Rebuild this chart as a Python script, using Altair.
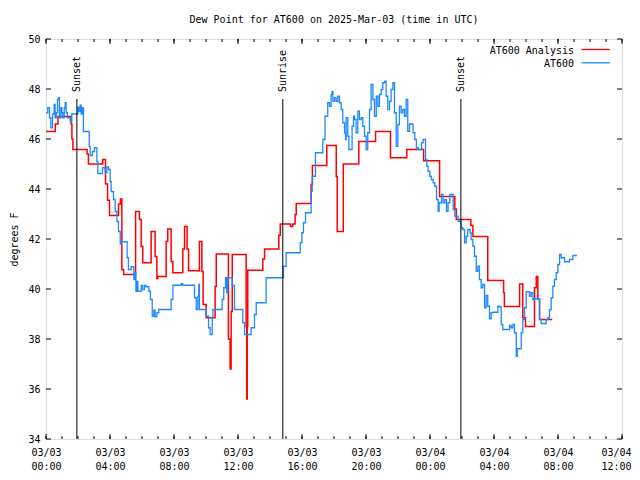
import altair as alt
import pandas as pd

# ---------------- data ----------------
red_hours = [0.00, 0.58, 0.75, 1.57, 1.62, 1.68, 2.57, 2.65, 3.55, 3.72, 3.85, 3.97,
             4.53, 4.65, 4.74, 4.85, 5.60, 5.84, 5.95, 6.05, 6.57, 6.82, 6.93, 6.99,
             7.51, 7.61, 7.82, 7.93, 8.55, 8.66, 8.82, 8.91, 9.59, 9.74, 9.82, 10.01,
             10.57, 10.64, 11.40, 11.51, 11.57, 11.64, 12.51, 12.55, 12.58, 12.61, 13.55,
             13.66, 14.55, 14.64, 15.28, 15.42, 15.57, 15.64, 16.57, 16.65, 17.55,
             18.14, 18.20, 18.58, 19.55, 20.60, 21.53, 22.55, 23.60, 24.60, 25.55,
             25.64, 26.55, 26.68, 27.61, 28.60, 28.65, 29.60, 29.80, 29.97, 30.53,
             30.64, 30.74, 30.85, 31.64]
red_vals = [46.30, 46.60, 46.90, 46.60, 46.00, 45.58, 45.40, 45.00, 45.18, 44.20, 43.55, 42.94,
            43.40, 43.60, 40.78, 40.58, 43.10, 42.78, 41.70, 41.05, 42.30, 41.30, 40.42, 40.50,
            41.90, 42.40, 41.10, 40.65, 41.60, 42.50, 41.60, 40.73, 41.90, 40.70, 39.38, 38.85,
            40.10, 41.40, 38.00, 36.80, 39.10, 41.38, 38.50, 35.60, 38.50, 40.75, 41.20,
            41.60, 42.15, 42.60, 42.50, 42.60, 42.98, 43.42, 44.18, 44.94, 45.74,
            44.50, 42.30, 45.00, 45.90, 46.30, 45.25, 45.58, 45.13, 43.70, 43.20,
            42.78, 42.54, 42.10, 40.34, 39.85, 39.30, 40.20, 38.85, 38.50, 40.05,
            40.50, 39.60, 38.78, 38.78]

blue_hours = [0.00, 0.11, 0.22, 0.30, 0.41, 0.51, 0.57, 0.64, 0.72, 0.78, 0.84, 0.93, 0.99,
              1.05, 1.14, 1.20, 1.26, 1.34, 1.51, 1.61, 1.99, 2.07, 2.14, 2.20, 2.28, 2.34,
              2.70, 2.76, 2.90, 3.03, 3.18, 3.24, 3.53, 3.70, 3.80, 3.91, 4.01, 4.07, 4.22,
              4.32, 4.43, 4.53, 4.64, 4.70, 5.07, 5.15, 5.32, 5.49, 5.57, 5.62, 5.68, 5.74,
              5.95, 6.05, 6.16, 6.26, 6.43, 6.53, 6.64, 6.74, 6.82, 6.93, 7.05, 7.82, 7.93,
              8.45, 8.55, 9.28, 9.39, 9.49, 9.55, 9.59, 10.01, 10.16, 10.26, 10.39, 10.43,
              11.01, 11.11, 11.22, 11.30, 11.36, 11.64, 11.78, 12.30, 12.41, 12.82, 13.03,
              13.14, 13.76, 14.84, 15.01, 15.89, 15.99, 16.09, 16.22, 16.57, 16.64, 16.84,
              17.30, 17.44, 17.61, 17.72, 17.82, 17.88, 17.93, 18.03, 18.13, 18.24, 18.34,
              18.45, 18.55, 18.66, 18.72, 18.76, 18.86, 18.93, 19.13, 19.22, 19.28, 19.38,
              19.49, 19.59, 19.70, 19.80, 19.91, 20.01, 20.11, 20.22, 20.32, 20.43, 20.53,
              20.64, 20.74, 20.84, 20.95, 21.05, 21.16, 21.26, 21.36, 21.47, 21.57, 21.68,
              21.78, 21.89, 21.99, 22.09, 22.20, 22.30, 22.41, 22.51, 22.61, 22.72, 22.94,
              23.05, 23.15, 23.26, 23.47, 23.57, 23.72, 23.80, 23.88, 23.99, 24.09, 24.20,
              24.30, 24.41, 24.51, 24.57, 24.72, 24.82, 24.93, 25.03, 25.13, 25.24, 25.45,
              25.55, 25.76, 25.95, 26.05, 26.16, 26.26, 26.36, 26.51, 26.57, 26.68, 26.78,
              26.89, 26.99, 27.09, 27.20, 27.30, 27.41, 27.51, 27.61, 27.72, 27.82, 27.93,
              28.24, 28.34, 28.45, 28.55, 28.97, 29.07, 29.18, 29.28, 29.39, 29.45, 29.70,
              29.80, 29.91, 30.01, 30.22, 30.32, 30.43, 30.53, 30.84, 30.95, 31.26, 31.36,
              31.47, 31.57, 31.68, 31.78, 31.89, 31.99, 32.10, 32.20, 32.41, 32.72, 32.93,
              33.18]
blue_vals = [47.05, 47.25, 46.85, 46.45, 47.00, 47.38, 46.85, 47.05, 47.58, 47.65, 46.85, 47.25, 47.05,
             46.85, 47.25, 47.45, 47.05, 46.85, 46.70, 47.00, 47.27, 47.10, 47.35, 47.00, 47.25, 46.30,
             45.70, 45.34, 45.50, 45.65, 45.10, 44.62, 44.85, 44.65, 44.88, 44.78, 44.30, 43.90, 43.58,
             43.10, 42.70, 42.30, 41.80, 41.89, 41.25, 40.78, 40.89, 40.38, 40.65, 39.91, 40.30, 39.91,
             40.14, 39.98, 40.14, 40.09, 39.91, 39.58, 38.91, 39.15, 38.89, 39.05, 39.18, 39.58, 40.15,
             40.21, 40.15, 39.65, 39.18, 39.71, 40.18, 39.18, 38.91, 38.45, 38.18, 38.85, 39.18,
             39.58, 40.05, 40.45, 39.85, 40.45, 40.14, 39.18, 38.65, 38.18, 38.45, 38.98,
             39.45, 40.45, 40.91, 41.45, 41.85, 42.25, 42.65, 43.05, 43.91, 44.51, 45.45,
             45.98, 46.91, 47.45, 47.31, 47.78, 47.89, 47.51, 47.65, 47.51, 47.71, 47.45,
             47.18, 46.65, 46.25, 45.98, 46.85, 46.11, 45.58, 46.51, 46.91, 46.78, 46.25,
             47.11, 46.78, 46.85, 46.51, 46.11, 45.58, 46.25, 47.18, 48.18, 47.58, 46.91,
             47.71, 47.31, 47.78, 47.98, 48.25, 48.31, 47.71, 47.18, 47.51, 47.98, 48.25,
             47.05, 45.71, 46.58, 47.31, 47.05, 47.18, 46.91, 47.58, 46.31, 46.60, 46.25,
             45.98, 45.65, 45.58, 45.85, 45.98, 45.18, 44.91, 44.71, 44.51, 44.38, 44.25,
             44.11, 43.58, 43.11, 43.45, 43.78, 43.45, 43.58, 43.11, 43.45, 43.78, 43.18,
             42.91, 42.71, 42.45, 42.38, 41.85, 42.11, 42.38, 42.25, 41.98, 41.71, 41.31,
             40.71, 40.91, 40.38, 40.05, 40.18, 39.25, 39.74, 39.31, 38.81, 39.05, 39.07,
             39.31, 39.29, 38.58, 38.38, 38.54, 38.45, 38.58, 38.25, 37.31, 37.61, 38.25,
             38.78, 39.25, 39.89, 39.71, 39.85, 39.58, 39.61, 38.78, 38.62, 38.78, 38.85,
             39.18, 39.65, 40.11, 40.38, 40.65, 40.98, 41.38, 41.25, 41.09, 41.18, 41.34,
             41.34]

sun_hours = [1.93, 14.80, 25.93]
sun_labels = ["Sunset", "Sunrise", "Sunset"]

y_ticks = [34, 36, 38, 40, 42, 44, 46, 48, 50]
x_major = [0, 4, 8, 12, 16, 20, 24, 28, 32, 36]
x_minor = list(range(0, 37))

series_names = ["AT600 Analysis", "AT600"]
series_colors = ["#ff0000", "#1e88ff"]

# ---------------- chart ----------------
FONT = "DejaVu Sans Mono"
W, H = 576, 400

red_df = pd.DataFrame({"hour": red_hours, "value": red_vals})
blue_df = pd.DataFrame({"hour": blue_hours, "value": blue_vals})
sun_df = pd.DataFrame({"hour": sun_hours, "label": sun_labels})
ytick_df = pd.DataFrame({"value": y_ticks})
xmaj_df = pd.DataFrame({"hour": x_major})
xmin_df = pd.DataFrame({"hour": x_minor})

xscale = alt.Scale(domain=[0, 36], nice=False, zero=False)
yscale = alt.Scale(domain=[34, 50], nice=False, zero=False)

label_expr = ("[datum.value < 24 ? '03/03' : '03/04', "
              "((datum.value % 24) < 10 ? '0' : '') + (datum.value % 24) + ':00']")

x_axis = alt.Axis(values=x_major, labelExpr=label_expr, ticks=False, grid=False,
                  domain=False, title=None, labelFont=FONT, labelFontSize=10,
                  labelColor="black", labelPadding=8, labelLineHeight=14,
                  labelAngle=0, labelOverlap=False, labelFlush=False,
                  labelOffset={"condition": {"test": "datum.value >= 36", "value": -6},
                               "value": 0})
y_axis = alt.Axis(values=y_ticks, ticks=False, grid=False, domain=False,
                  title="degrees F", titleFont=FONT, titleFontSize=10,
                  titleFontWeight="normal", titleColor="black", titlePadding=8,
                  labelFont=FONT, labelFontSize=10, labelColor="black",
                  labelPadding=6, labelOverlap=False)

X = alt.X("hour:Q", scale=xscale, axis=x_axis)
Y = alt.Y("value:Q", scale=yscale, axis=y_axis)

red_line = alt.Chart(red_df).mark_line(
    interpolate="step-after", color=series_colors[0], strokeWidth=1.5
).encode(x=X, y=Y)

blue_line = alt.Chart(blue_df).mark_line(
    interpolate="step-after", color=series_colors[1], strokeWidth=1.3
).encode(x=X, y=Y)

sun_rules = alt.Chart(sun_df).mark_rule(color="black", strokeWidth=1).encode(
    x=X, y=alt.value(H), y2=alt.value(60))
sun_text = alt.Chart(sun_df).mark_text(
    angle=270, align="left", baseline="middle", font=FONT, fontSize=10, color="black"
).encode(x=X, y=alt.value(53), text="label:N")

# inward ticks
bot_minor = alt.Chart(xmin_df).mark_rule(color="black").encode(
    x=X, y=alt.value(H), y2=alt.value(H - 3))
bot_major = alt.Chart(xmaj_df).mark_rule(color="black").encode(
    x=X, y=alt.value(H), y2=alt.value(H - 5))
top_minor = alt.Chart(xmin_df).mark_rule(color="black").encode(
    x=X, y=alt.value(0), y2=alt.value(3))
top_major = alt.Chart(xmaj_df).mark_rule(color="black").encode(
    x=X, y=alt.value(0), y2=alt.value(5))
left_ticks = alt.Chart(ytick_df).mark_rule(color="black").encode(
    y=Y, x=alt.value(0), x2=alt.value(5))
right_ticks = alt.Chart(ytick_df).mark_rule(color="black").encode(
    y=Y, x=alt.value(W), x2=alt.value(W - 5))

# legend (top-right, inside)
leg_layers = []
for i, (name, col) in enumerate(zip(series_names, series_colors)):
    ly = 12 + i * 13.3
    ldf = pd.DataFrame({"name": [name]})
    leg_layers.append(alt.Chart(ldf).mark_text(
        align="right", baseline="middle", font=FONT, fontSize=10, color="black"
    ).encode(text="name:N", x=alt.value(528), y=alt.value(ly)))
    leg_layers.append(alt.Chart(ldf).mark_rule(color=col, strokeWidth=1.3).encode(
        x=alt.value(535.5), x2=alt.value(564), y=alt.value(ly - 1.5)))

chart = alt.layer(
    red_line, blue_line, sun_rules, sun_text,
    bot_minor, bot_major, top_minor, top_major, left_ticks, right_ticks,
    *leg_layers
).properties(
    width=W, height=H,
    autosize=alt.AutoSizeParams(type="none"),
    padding={"left": 38, "top": 31, "right": 10, "bottom": 33},
    title=alt.TitleParams("Dew Point for AT600 on 2025-Mar-03 (time in UTC)",
                          font=FONT, fontSize=10, fontWeight="normal",
                          color="black", anchor="middle", offset=9),
).configure_view(stroke="black", strokeWidth=1).configure(background="white")

chart.save("out.html", embed_options={"renderer": "svg", "actions": False})
